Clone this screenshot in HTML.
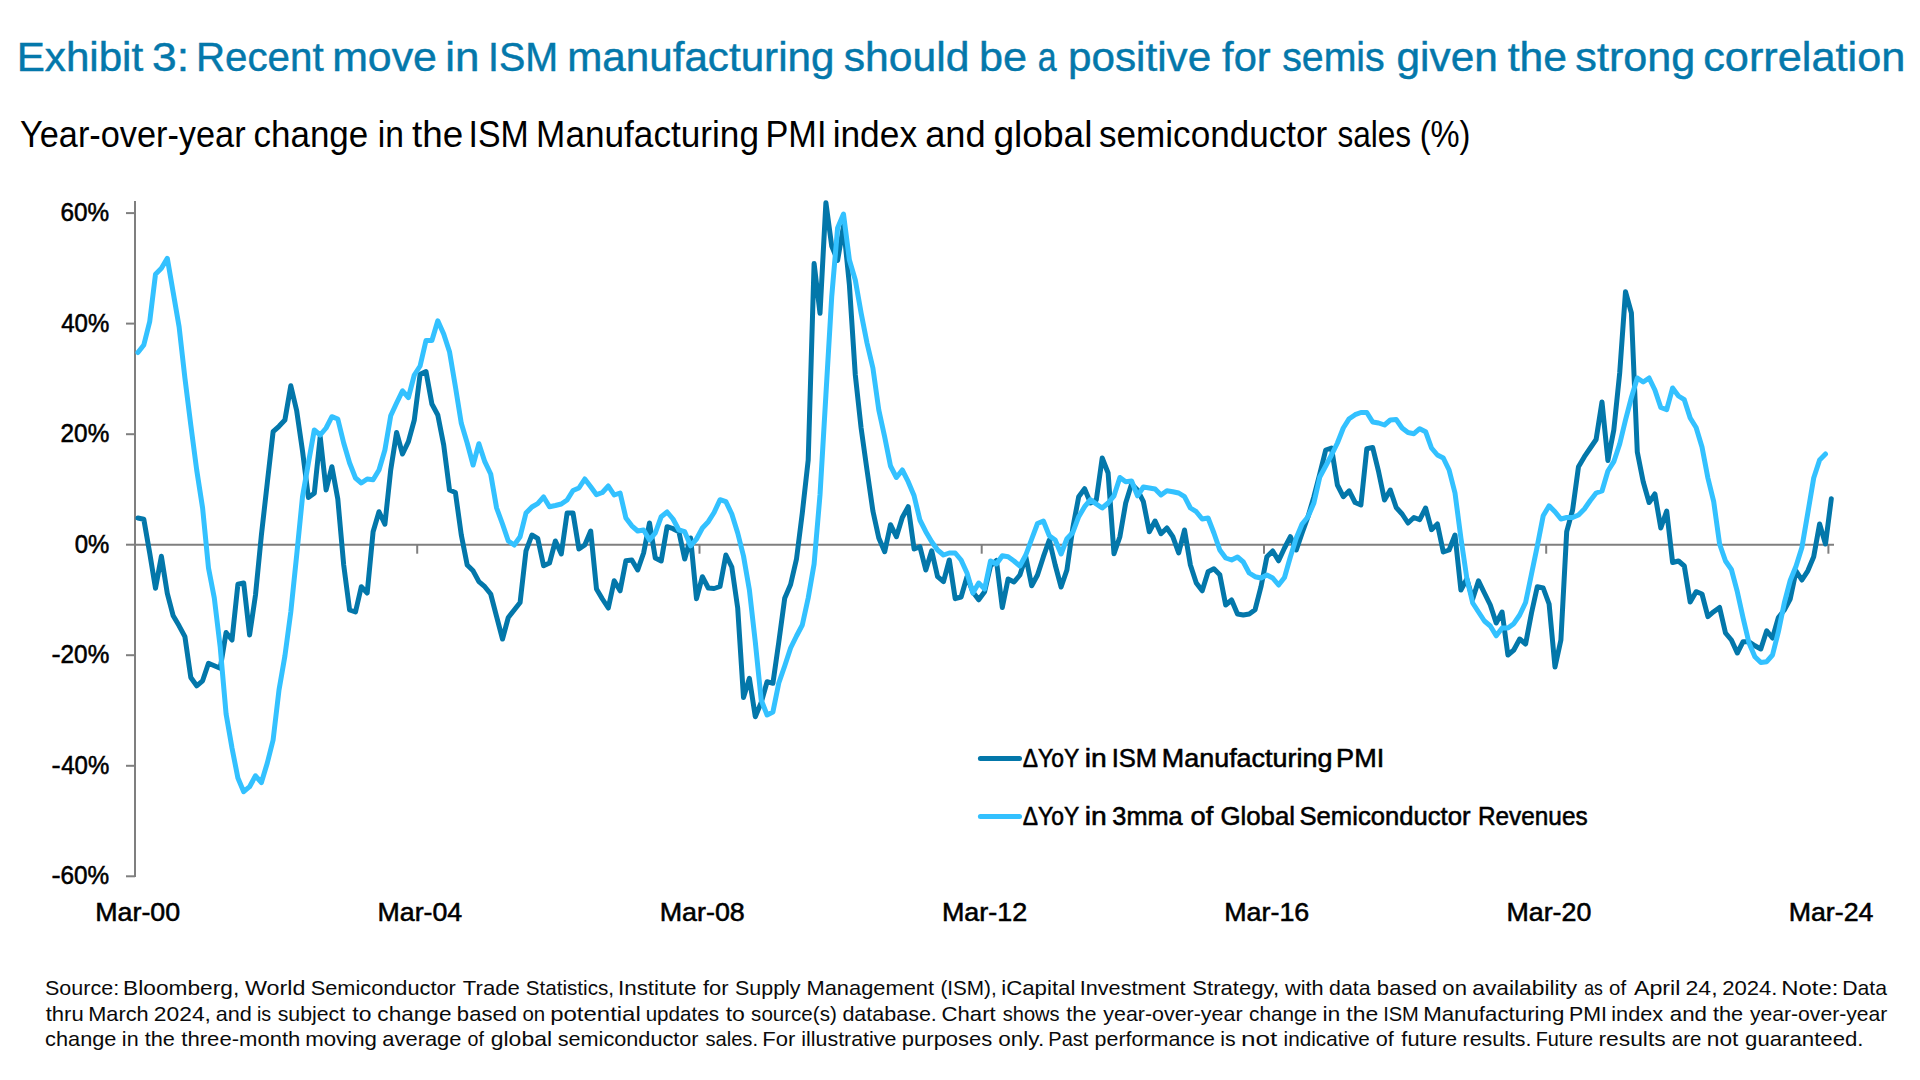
<!DOCTYPE html>
<html lang="en"><head><meta charset="utf-8"><title>Exhibit 3</title>
<style>
html,body{margin:0;padding:0;background:#fff;}
body{width:1920px;height:1080px;overflow:hidden;}
svg{display:block;}
text{font-family:"Liberation Sans",sans-serif;}
</style></head><body>
<svg width="1920" height="1080" viewBox="0 0 1920 1080">
<rect width="1920" height="1080" fill="#fff"/>

<text y="71.2" font-size="40" fill="#0478AB" stroke="#0478AB" stroke-width="0.45"><tspan x="16.74" textLength="126.46" lengthAdjust="spacingAndGlyphs">Exhibit</tspan> <tspan x="152.06" textLength="36.99" lengthAdjust="spacingAndGlyphs">3:</tspan> <tspan x="196.00" textLength="127.60" lengthAdjust="spacingAndGlyphs">Recent</tspan> <tspan x="332.16" textLength="104.75" lengthAdjust="spacingAndGlyphs">move</tspan> <tspan x="445.36" textLength="34.19" lengthAdjust="spacingAndGlyphs">in</tspan> <tspan x="488.06" textLength="70.18" lengthAdjust="spacingAndGlyphs">ISM</tspan> <tspan x="567.20" textLength="267.22" lengthAdjust="spacingAndGlyphs">manufacturing</tspan> <tspan x="843.81" textLength="125.63" lengthAdjust="spacingAndGlyphs">should</tspan> <tspan x="978.92" textLength="48.00" lengthAdjust="spacingAndGlyphs">be</tspan> <tspan x="1037.86" textLength="18.84" lengthAdjust="spacingAndGlyphs">a</tspan> <tspan x="1067.98" textLength="143.20" lengthAdjust="spacingAndGlyphs">positive</tspan> <tspan x="1222.11" textLength="48.58" lengthAdjust="spacingAndGlyphs">for</tspan> <tspan x="1282.21" textLength="102.51" lengthAdjust="spacingAndGlyphs">semis</tspan> <tspan x="1396.52" textLength="101.23" lengthAdjust="spacingAndGlyphs">given</tspan> <tspan x="1507.65" textLength="59.24" lengthAdjust="spacingAndGlyphs">the</tspan> <tspan x="1575.30" textLength="119.98" lengthAdjust="spacingAndGlyphs">strong</tspan> <tspan x="1703.16" textLength="202.15" lengthAdjust="spacingAndGlyphs">correlation</tspan></text>
<text y="147.1" font-size="36" fill="#000"><tspan x="20.06" textLength="225.50" lengthAdjust="spacingAndGlyphs">Year-over-year</tspan> <tspan x="253.51" textLength="114.74" lengthAdjust="spacingAndGlyphs">change</tspan> <tspan x="377.75" textLength="26.13" lengthAdjust="spacingAndGlyphs">in</tspan> <tspan x="412.14" textLength="51.19" lengthAdjust="spacingAndGlyphs">the</tspan> <tspan x="468.57" textLength="60.20" lengthAdjust="spacingAndGlyphs">ISM</tspan> <tspan x="536.12" textLength="222.85" lengthAdjust="spacingAndGlyphs">Manufacturing</tspan> <tspan x="765.49" textLength="60.98" lengthAdjust="spacingAndGlyphs">PMI</tspan> <tspan x="832.64" textLength="84.44" lengthAdjust="spacingAndGlyphs">index</tspan> <tspan x="925.16" textLength="60.48" lengthAdjust="spacingAndGlyphs">and</tspan> <tspan x="993.44" textLength="99.04" lengthAdjust="spacingAndGlyphs">global</tspan> <tspan x="1099.02" textLength="228.26" lengthAdjust="spacingAndGlyphs">semiconductor</tspan> <tspan x="1337.42" textLength="73.72" lengthAdjust="spacingAndGlyphs">sales</tspan> <tspan x="1419.67" textLength="50.86" lengthAdjust="spacingAndGlyphs">(%)</tspan></text>
<g stroke="#7f7f7f" stroke-width="2" fill="none">
<line x1="135" y1="201" x2="135" y2="877"/>
<line x1="135" y1="544.7" x2="1834" y2="544.7"/>
<line x1="126" y1="213.1" x2="135" y2="213.1"/>
<line x1="126" y1="323.6" x2="135" y2="323.6"/>
<line x1="126" y1="434.2" x2="135" y2="434.2"/>
<line x1="126" y1="544.7" x2="135" y2="544.7"/>
<line x1="126" y1="655.2" x2="135" y2="655.2"/>
<line x1="126" y1="765.8" x2="135" y2="765.8"/>
<line x1="126" y1="876.3" x2="135" y2="876.3"/>
<line x1="417.2" y1="544.7" x2="417.2" y2="553.7"/>
<line x1="699.5" y1="544.7" x2="699.5" y2="553.7"/>
<line x1="981.7" y1="544.7" x2="981.7" y2="553.7"/>
<line x1="1264.0" y1="544.7" x2="1264.0" y2="553.7"/>
<line x1="1546.2" y1="544.7" x2="1546.2" y2="553.7"/>
<line x1="1828.4" y1="544.7" x2="1828.4" y2="553.7"/>
</g>
<text y="221.2" font-size="26" fill="#000" stroke="#000" stroke-width="0.55"><tspan x="60.56" textLength="48.70" lengthAdjust="spacingAndGlyphs">60%</tspan></text>
<text y="331.7" font-size="26" fill="#000" stroke="#000" stroke-width="0.55"><tspan x="61.25" textLength="48.01" lengthAdjust="spacingAndGlyphs">40%</tspan></text>
<text y="442.3" font-size="26" fill="#000" stroke="#000" stroke-width="0.55"><tspan x="60.58" textLength="48.69" lengthAdjust="spacingAndGlyphs">20%</tspan></text>
<text y="552.8" font-size="26" fill="#000" stroke="#000" stroke-width="0.55"><tspan x="74.67" textLength="34.59" lengthAdjust="spacingAndGlyphs">0%</tspan></text>
<text y="663.3" font-size="26" fill="#000" stroke="#000" stroke-width="0.55"><tspan x="51.48" textLength="9.14" lengthAdjust="spacingAndGlyphs">-</tspan><tspan x="60.58" textLength="48.69" lengthAdjust="spacingAndGlyphs">20%</tspan></text>
<text y="773.9" font-size="26" fill="#000" stroke="#000" stroke-width="0.55"><tspan x="51.48" textLength="9.14" lengthAdjust="spacingAndGlyphs">-</tspan><tspan x="61.25" textLength="48.01" lengthAdjust="spacingAndGlyphs">40%</tspan></text>
<text y="884.4" font-size="26" fill="#000" stroke="#000" stroke-width="0.55"><tspan x="51.48" textLength="9.14" lengthAdjust="spacingAndGlyphs">-</tspan><tspan x="60.56" textLength="48.70" lengthAdjust="spacingAndGlyphs">60%</tspan></text>
<text y="921" font-size="26" fill="#000" stroke="#000" stroke-width="0.55"><tspan x="95.25" textLength="84.95" lengthAdjust="spacingAndGlyphs">Mar-00</tspan></text>
<text y="921" font-size="26" fill="#000" stroke="#000" stroke-width="0.55"><tspan x="377.50" textLength="84.68" lengthAdjust="spacingAndGlyphs">Mar-04</tspan></text>
<text y="921" font-size="26" fill="#000" stroke="#000" stroke-width="0.55"><tspan x="659.73" textLength="85.07" lengthAdjust="spacingAndGlyphs">Mar-08</tspan></text>
<text y="921" font-size="26" fill="#000" stroke="#000" stroke-width="0.55"><tspan x="941.96" textLength="85.26" lengthAdjust="spacingAndGlyphs">Mar-12</tspan></text>
<text y="921" font-size="26" fill="#000" stroke="#000" stroke-width="0.55"><tspan x="1224.21" textLength="85.08" lengthAdjust="spacingAndGlyphs">Mar-16</tspan></text>
<text y="921" font-size="26" fill="#000" stroke="#000" stroke-width="0.55"><tspan x="1506.45" textLength="84.95" lengthAdjust="spacingAndGlyphs">Mar-20</tspan></text>
<text y="921" font-size="26" fill="#000" stroke="#000" stroke-width="0.55"><tspan x="1788.70" textLength="84.68" lengthAdjust="spacingAndGlyphs">Mar-24</tspan></text>
<polyline points="137.9,518.0 143.8,519.2 149.7,553.0 155.5,588.3 161.4,556.3 167.3,593.3 173.2,615.8 179.1,625.8 184.9,636.7 190.8,677.5 196.7,685.8 202.6,680.8 208.5,663.3 214.3,665.8 220.2,668.3 226.1,632.5 232.0,640.0 237.9,584.2 243.7,583.0 249.6,635.0 255.5,595.0 261.4,535.0 267.3,482.8 273.1,431.7 279.0,426.3 284.9,420.0 290.8,385.8 296.7,410.8 302.5,450.8 308.4,497.5 314.3,493.3 320.2,436.7 326.1,490.0 331.9,466.7 337.8,499.0 343.7,565.0 349.6,610.0 355.5,612.0 361.3,586.7 367.2,593.0 373.1,531.7 379.0,511.7 384.9,524.2 390.7,470.0 396.6,432.5 402.5,454.0 408.4,441.7 414.3,420.0 420.1,374.2 426.0,371.5 431.9,404.0 437.8,415.0 443.7,445.0 449.5,490.0 455.4,492.5 461.3,535.0 467.2,565.0 473.1,570.8 478.9,581.7 484.8,586.7 490.7,594.0 496.6,616.7 502.5,639.0 508.3,617.5 514.2,610.0 520.1,602.5 526.0,550.8 531.9,535.0 537.7,538.3 543.6,565.8 549.5,563.0 555.4,541.0 561.3,554.0 567.1,513.0 573.0,513.0 578.9,549.0 584.8,545.0 590.7,531.0 596.5,589.0 602.4,599.0 608.3,608.0 614.2,580.8 620.1,590.8 625.9,560.8 631.8,560.0 637.7,570.0 643.6,553.0 649.5,523.0 655.3,558.0 661.2,561.0 667.1,526.7 673.0,528.7 678.9,531.7 684.7,559.0 690.6,538.0 696.5,598.7 702.4,576.7 708.3,588.0 714.1,588.5 720.0,586.5 725.9,555.0 731.8,567.0 737.7,608.0 743.5,697.5 749.4,678.3 755.3,716.7 761.2,702.5 767.1,681.7 772.9,683.3 778.8,642.0 784.7,598.3 790.6,584.5 796.5,559.0 802.3,513.0 808.2,460.0 814.1,263.5 820.0,313.3 825.9,202.7 831.7,246.0 837.6,260.4 843.5,226.0 849.4,285.0 855.3,375.0 861.1,428.0 867.0,470.0 872.9,511.0 878.8,538.0 884.7,551.7 890.5,524.7 896.4,536.7 902.3,517.5 908.2,506.7 914.1,549.0 919.9,546.7 925.8,570.0 931.7,550.8 937.6,576.7 943.5,581.7 949.3,560.0 955.2,598.7 961.1,597.0 967.0,576.7 972.9,592.0 978.7,599.8 984.6,591.7 990.5,566.0 996.4,560.5 1002.3,607.5 1008.1,579.0 1014.0,582.0 1019.9,575.0 1025.8,556.7 1031.7,585.8 1037.5,575.0 1043.4,556.7 1049.3,540.0 1055.2,565.0 1061.1,587.0 1066.9,570.0 1072.8,528.0 1078.7,496.7 1084.6,488.7 1090.5,503.0 1096.3,500.0 1102.2,458.0 1108.1,473.0 1114.0,553.7 1119.9,536.7 1125.7,503.0 1131.6,484.0 1137.5,490.0 1143.4,501.7 1149.3,531.7 1155.1,521.0 1161.0,533.7 1166.9,528.0 1172.8,536.7 1178.7,553.0 1184.5,530.0 1190.4,565.0 1196.3,583.0 1202.2,590.8 1208.1,571.7 1213.9,568.7 1219.8,574.7 1225.7,605.0 1231.6,600.0 1237.5,614.0 1243.3,615.0 1249.2,614.0 1255.1,609.7 1261.0,586.7 1266.9,556.7 1272.7,551.0 1278.6,560.8 1284.5,548.0 1290.4,536.7 1296.3,550.0 1302.1,533.0 1308.0,516.7 1313.9,496.7 1319.8,474.0 1325.7,450.0 1331.5,448.0 1337.4,485.0 1343.3,496.7 1349.2,490.8 1355.1,502.5 1360.9,505.0 1366.8,448.7 1372.7,447.5 1378.6,471.7 1384.5,500.0 1390.3,490.0 1396.2,507.5 1402.1,514.0 1408.0,523.0 1413.9,517.5 1419.7,519.7 1425.6,508.0 1431.5,529.7 1437.4,524.0 1443.3,552.0 1449.1,550.0 1455.0,535.0 1460.9,590.0 1466.8,579.0 1472.7,599.0 1478.5,580.8 1484.4,593.0 1490.3,605.0 1496.2,623.0 1502.1,612.0 1507.9,655.0 1513.8,650.0 1519.7,639.0 1525.6,644.0 1531.5,613.0 1537.3,586.7 1543.2,588.0 1549.1,604.0 1555.0,667.0 1560.9,640.0 1566.7,531.7 1572.6,510.0 1578.5,466.7 1584.4,456.7 1590.3,448.0 1596.1,439.5 1602.0,402.0 1607.9,460.5 1613.8,430.0 1619.7,373.0 1625.5,291.7 1631.4,313.0 1637.3,452.0 1643.2,481.7 1649.1,502.5 1654.9,494.0 1660.8,528.0 1666.7,511.0 1672.6,562.5 1678.5,561.0 1684.3,566.0 1690.2,602.0 1696.1,591.7 1702.0,594.0 1707.9,616.7 1713.7,611.7 1719.6,607.5 1725.5,633.0 1731.4,640.0 1737.3,653.0 1743.1,641.7 1749.0,641.7 1754.9,645.8 1760.8,649.0 1766.7,630.8 1772.5,638.0 1778.4,617.5 1784.3,610.0 1790.2,599.0 1796.1,571.0 1801.9,580.0 1807.8,570.8 1813.7,556.7 1819.6,524.0 1825.5,544.0 1831.3,498.7" fill="none" stroke="#0377AA" stroke-width="5" stroke-linejoin="round" stroke-linecap="round"/>
<polyline points="137.9,352.5 143.8,345.0 149.7,321.7 155.5,274.2 161.4,268.3 167.3,258.3 173.2,292.5 179.1,326.7 184.9,378.0 190.8,425.0 196.7,470.0 202.6,508.0 208.5,568.0 214.3,598.0 220.2,647.0 226.1,714.0 232.0,748.0 237.9,778.0 243.7,791.7 249.6,786.7 255.5,775.8 261.4,782.5 267.3,763.0 273.1,740.0 279.0,690.0 284.9,656.0 290.8,612.0 296.7,555.0 302.5,496.7 308.4,463.0 314.3,430.0 320.2,435.0 326.1,428.0 331.9,416.7 337.8,419.0 343.7,443.0 349.6,463.0 355.5,478.0 361.3,483.0 367.2,479.0 373.1,479.7 379.0,470.0 384.9,450.0 390.7,415.8 396.6,403.0 402.5,390.8 408.4,397.5 414.3,375.0 420.1,366.0 426.0,340.5 431.9,340.5 437.8,320.8 443.7,334.0 449.5,351.7 455.4,386.7 461.3,423.3 467.2,443.0 473.1,465.0 478.9,443.7 484.8,461.7 490.7,474.0 496.6,508.0 502.5,524.0 508.3,541.0 514.2,545.0 520.1,536.7 526.0,513.0 531.9,507.0 537.7,503.7 543.6,497.0 549.5,506.7 555.4,505.5 561.3,504.0 567.1,500.0 573.0,490.5 578.9,488.0 584.8,479.0 590.7,486.7 596.5,494.7 602.4,492.5 608.3,486.0 614.2,495.0 620.1,493.0 625.9,518.0 631.8,525.8 637.7,531.0 643.6,530.0 649.5,540.0 655.3,533.0 661.2,516.7 667.1,512.0 673.0,519.0 678.9,530.0 684.7,531.7 690.6,545.8 696.5,539.0 702.4,528.0 708.3,521.7 714.1,512.5 720.0,499.7 725.9,501.7 731.8,514.0 737.7,533.0 743.5,556.0 749.4,590.0 755.3,642.0 761.2,700.0 767.1,715.0 772.9,712.0 778.8,683.0 784.7,666.0 790.6,648.0 796.5,636.0 802.3,625.0 808.2,598.0 814.1,564.0 820.0,495.0 825.9,395.0 831.7,297.0 837.6,228.0 843.5,214.0 849.4,260.0 855.3,280.0 861.1,313.0 867.0,343.0 872.9,368.0 878.8,410.0 884.7,437.0 890.5,466.0 896.4,477.5 902.3,470.0 908.2,481.7 914.1,495.8 919.9,520.0 925.8,531.7 931.7,541.7 937.6,550.0 943.5,555.0 949.3,553.0 955.2,553.0 961.1,560.0 967.0,573.0 972.9,593.0 978.7,583.0 984.6,589.0 990.5,561.0 996.4,564.0 1002.3,555.8 1008.1,556.7 1014.0,561.0 1019.9,566.0 1025.8,555.0 1031.7,539.0 1037.5,523.5 1043.4,521.0 1049.3,535.8 1055.2,540.0 1061.1,554.0 1066.9,538.7 1072.8,532.5 1078.7,516.7 1084.6,506.7 1090.5,499.7 1096.3,504.0 1102.2,508.0 1108.1,503.0 1114.0,495.8 1119.9,477.5 1125.7,481.7 1131.6,481.0 1137.5,495.8 1143.4,487.0 1149.3,488.0 1155.1,489.0 1161.0,495.0 1166.9,490.8 1172.8,491.7 1178.7,493.0 1184.5,496.7 1190.4,508.0 1196.3,511.7 1202.2,519.0 1208.1,518.0 1213.9,533.0 1219.8,550.0 1225.7,558.0 1231.6,560.0 1237.5,557.0 1243.3,562.0 1249.2,573.0 1255.1,576.7 1261.0,578.0 1266.9,575.0 1272.7,578.0 1278.6,585.0 1284.5,577.5 1290.4,556.7 1296.3,538.0 1302.1,524.0 1308.0,516.7 1313.9,503.0 1319.8,477.0 1325.7,466.0 1331.5,455.0 1337.4,443.0 1343.3,428.0 1349.2,418.7 1355.1,414.7 1360.9,412.5 1366.8,412.5 1372.7,422.0 1378.6,423.0 1384.5,425.0 1390.3,420.0 1396.2,419.5 1402.1,428.0 1408.0,432.5 1413.9,433.7 1419.7,428.7 1425.6,431.7 1431.5,448.0 1437.4,455.0 1443.3,458.0 1449.1,470.0 1455.0,493.0 1460.9,538.0 1466.8,578.0 1472.7,603.0 1478.5,612.0 1484.4,621.0 1490.3,626.0 1496.2,635.8 1502.1,628.0 1507.9,628.0 1513.8,623.7 1519.7,615.0 1525.6,602.5 1531.5,574.0 1537.3,546.0 1543.2,515.8 1549.1,505.8 1555.0,511.7 1560.9,519.0 1566.7,517.5 1572.6,517.5 1578.5,515.0 1584.4,509.0 1590.3,500.5 1596.1,493.0 1602.0,491.0 1607.9,471.0 1613.8,461.7 1619.7,444.0 1625.5,420.0 1631.4,397.5 1637.3,378.0 1643.2,382.0 1649.1,378.0 1654.9,390.0 1660.8,407.5 1666.7,409.7 1672.6,388.0 1678.5,396.0 1684.3,399.7 1690.2,418.0 1696.1,427.5 1702.0,447.0 1707.9,478.0 1713.7,501.7 1719.6,544.0 1725.5,561.0 1731.4,569.5 1737.3,591.7 1743.1,618.0 1749.0,643.0 1754.9,656.7 1760.8,662.5 1766.7,661.7 1772.5,655.0 1778.4,631.7 1784.3,603.0 1790.2,580.5 1796.1,566.0 1801.9,547.5 1807.8,513.0 1813.7,478.0 1819.6,460.0 1825.5,454.0" fill="none" stroke="#33C1FF" stroke-width="5" stroke-linejoin="round" stroke-linecap="round"/>
<line x1="980.4" y1="758.4" x2="1019.5" y2="758.4" stroke="#0377AA" stroke-width="5" stroke-linecap="round"/>
<line x1="980.4" y1="816.6" x2="1019.5" y2="816.6" stroke="#33C1FF" stroke-width="5" stroke-linecap="round"/>
<text y="766.7" font-size="25.6" fill="#000" stroke="#000" stroke-width="0.55"><tspan x="1022.85" textLength="55.93" lengthAdjust="spacingAndGlyphs">ΔYoY</tspan> <tspan x="1084.81" textLength="22.03" lengthAdjust="spacingAndGlyphs">in</tspan> <tspan x="1111.64" textLength="45.46" lengthAdjust="spacingAndGlyphs">ISM</tspan> <tspan x="1161.79" textLength="170.64" lengthAdjust="spacingAndGlyphs">Manufacturing</tspan> <tspan x="1336.08" textLength="48.12" lengthAdjust="spacingAndGlyphs">PMI</tspan></text>
<text y="824.9" font-size="25.6" fill="#000" stroke="#000" stroke-width="0.55"><tspan x="1022.85" textLength="55.93" lengthAdjust="spacingAndGlyphs">ΔYoY</tspan> <tspan x="1084.81" textLength="22.03" lengthAdjust="spacingAndGlyphs">in</tspan> <tspan x="1112.34" textLength="70.36" lengthAdjust="spacingAndGlyphs">3mma</tspan> <tspan x="1190.56" textLength="22.70" lengthAdjust="spacingAndGlyphs">of</tspan> <tspan x="1220.40" textLength="74.63" lengthAdjust="spacingAndGlyphs">Global</tspan> <tspan x="1299.54" textLength="170.89" lengthAdjust="spacingAndGlyphs">Semiconductor</tspan> <tspan x="1478.00" textLength="109.58" lengthAdjust="spacingAndGlyphs">Revenues</tspan></text>
<text y="995.4" font-size="19.8" fill="#0a0a0a"><tspan x="45.02" textLength="74.14" lengthAdjust="spacingAndGlyphs">Source:</tspan> <tspan x="123.14" textLength="116.10" lengthAdjust="spacingAndGlyphs">Bloomberg,</tspan> <tspan x="244.90" textLength="60.49" lengthAdjust="spacingAndGlyphs">World</tspan> <tspan x="310.71" textLength="145.15" lengthAdjust="spacingAndGlyphs">Semiconductor</tspan> <tspan x="462.81" textLength="57.06" lengthAdjust="spacingAndGlyphs">Trade</tspan> <tspan x="525.76" textLength="88.29" lengthAdjust="spacingAndGlyphs">Statistics,</tspan> <tspan x="617.93" textLength="78.57" lengthAdjust="spacingAndGlyphs">Institute</tspan> <tspan x="702.99" textLength="25.57" lengthAdjust="spacingAndGlyphs">for</tspan> <tspan x="735.03" textLength="65.51" lengthAdjust="spacingAndGlyphs">Supply</tspan> <tspan x="806.51" textLength="127.55" lengthAdjust="spacingAndGlyphs">Management</tspan> <tspan x="940.42" textLength="56.34" lengthAdjust="spacingAndGlyphs">(ISM),</tspan> <tspan x="1001.21" textLength="74.18" lengthAdjust="spacingAndGlyphs">iCapital</tspan> <tspan x="1079.70" textLength="105.96" lengthAdjust="spacingAndGlyphs">Investment</tspan> <tspan x="1192.31" textLength="86.83" lengthAdjust="spacingAndGlyphs">Strategy,</tspan> <tspan x="1285.03" textLength="38.58" lengthAdjust="spacingAndGlyphs">with</tspan> <tspan x="1329.11" textLength="41.39" lengthAdjust="spacingAndGlyphs">data</tspan> <tspan x="1376.88" textLength="60.04" lengthAdjust="spacingAndGlyphs">based</tspan> <tspan x="1442.37" textLength="24.56" lengthAdjust="spacingAndGlyphs">on</tspan> <tspan x="1472.33" textLength="104.91" lengthAdjust="spacingAndGlyphs">availability</tspan> <tspan x="1584.25" textLength="18.58" lengthAdjust="spacingAndGlyphs">as</tspan> <tspan x="1609.14" textLength="17.03" lengthAdjust="spacingAndGlyphs">of</tspan> <tspan x="1633.95" textLength="46.50" lengthAdjust="spacingAndGlyphs">April</tspan> <tspan x="1685.54" textLength="32.03" lengthAdjust="spacingAndGlyphs">24,</tspan> <tspan x="1722.19" textLength="55.33" lengthAdjust="spacingAndGlyphs">2024.</tspan> <tspan x="1781.34" textLength="57.04" lengthAdjust="spacingAndGlyphs">Note:</tspan> <tspan x="1842.26" textLength="44.74" lengthAdjust="spacingAndGlyphs">Data</tspan></text>
<text y="1020.8" font-size="19.8" fill="#0a0a0a"><tspan x="45.67" textLength="38.00" lengthAdjust="spacingAndGlyphs">thru</tspan> <tspan x="88.22" textLength="60.39" lengthAdjust="spacingAndGlyphs">March</tspan> <tspan x="153.85" textLength="57.10" lengthAdjust="spacingAndGlyphs">2024,</tspan> <tspan x="215.78" textLength="36.11" lengthAdjust="spacingAndGlyphs">and</tspan> <tspan x="256.98" textLength="14.23" lengthAdjust="spacingAndGlyphs">is</tspan> <tspan x="277.71" textLength="67.35" lengthAdjust="spacingAndGlyphs">subject</tspan> <tspan x="352.35" textLength="19.11" lengthAdjust="spacingAndGlyphs">to</tspan> <tspan x="377.34" textLength="74.16" lengthAdjust="spacingAndGlyphs">change</tspan> <tspan x="456.88" textLength="60.04" lengthAdjust="spacingAndGlyphs">based</tspan> <tspan x="522.44" textLength="22.79" lengthAdjust="spacingAndGlyphs">on</tspan> <tspan x="550.15" textLength="90.65" lengthAdjust="spacingAndGlyphs">potential</tspan> <tspan x="645.66" textLength="73.28" lengthAdjust="spacingAndGlyphs">updates</tspan> <tspan x="725.65" textLength="19.22" lengthAdjust="spacingAndGlyphs">to</tspan> <tspan x="751.13" textLength="85.65" lengthAdjust="spacingAndGlyphs">source(s)</tspan> <tspan x="842.40" textLength="94.47" lengthAdjust="spacingAndGlyphs">database.</tspan> <tspan x="941.58" textLength="54.09" lengthAdjust="spacingAndGlyphs">Chart</tspan> <tspan x="1002.74" textLength="56.88" lengthAdjust="spacingAndGlyphs">shows</tspan> <tspan x="1066.37" textLength="30.09" lengthAdjust="spacingAndGlyphs">the</tspan> <tspan x="1103.25" textLength="139.31" lengthAdjust="spacingAndGlyphs">year-over-year</tspan> <tspan x="1249.12" textLength="68.00" lengthAdjust="spacingAndGlyphs">change</tspan> <tspan x="1322.46" textLength="17.94" lengthAdjust="spacingAndGlyphs">in</tspan> <tspan x="1346.35" textLength="31.87" lengthAdjust="spacingAndGlyphs">the</tspan> <tspan x="1383.15" textLength="35.70" lengthAdjust="spacingAndGlyphs">ISM</tspan> <tspan x="1423.17" textLength="141.16" lengthAdjust="spacingAndGlyphs">Manufacturing</tspan> <tspan x="1568.95" textLength="37.92" lengthAdjust="spacingAndGlyphs">PMI</tspan> <tspan x="1611.25" textLength="51.88" lengthAdjust="spacingAndGlyphs">index</tspan> <tspan x="1669.75" textLength="37.18" lengthAdjust="spacingAndGlyphs">and</tspan> <tspan x="1712.97" textLength="30.19" lengthAdjust="spacingAndGlyphs">the</tspan> <tspan x="1749.95" textLength="137.40" lengthAdjust="spacingAndGlyphs">year-over-year</tspan></text>
<text y="1046.2" font-size="19.8" fill="#0a0a0a"><tspan x="45.08" textLength="71.39" lengthAdjust="spacingAndGlyphs">change</tspan> <tspan x="121.86" textLength="16.73" lengthAdjust="spacingAndGlyphs">in</tspan> <tspan x="144.67" textLength="30.19" lengthAdjust="spacingAndGlyphs">the</tspan> <tspan x="181.37" textLength="118.97" lengthAdjust="spacingAndGlyphs">three-month</tspan> <tspan x="305.22" textLength="71.71" lengthAdjust="spacingAndGlyphs">moving</tspan> <tspan x="382.37" textLength="79.10" lengthAdjust="spacingAndGlyphs">average</tspan> <tspan x="467.47" textLength="16.40" lengthAdjust="spacingAndGlyphs">of</tspan> <tspan x="490.74" textLength="61.30" lengthAdjust="spacingAndGlyphs">global</tspan> <tspan x="557.70" textLength="140.86" lengthAdjust="spacingAndGlyphs">semiconductor</tspan> <tspan x="705.44" textLength="52.60" lengthAdjust="spacingAndGlyphs">sales.</tspan> <tspan x="762.19" textLength="33.07" lengthAdjust="spacingAndGlyphs">For</tspan> <tspan x="801.27" textLength="95.18" lengthAdjust="spacingAndGlyphs">illustrative</tspan> <tspan x="901.88" textLength="90.41" lengthAdjust="spacingAndGlyphs">purposes</tspan> <tspan x="998.39" textLength="45.79" lengthAdjust="spacingAndGlyphs">only.</tspan> <tspan x="1048.36" textLength="39.99" lengthAdjust="spacingAndGlyphs">Past</tspan> <tspan x="1094.62" textLength="120.23" lengthAdjust="spacingAndGlyphs">performance</tspan> <tspan x="1220.27" textLength="15.40" lengthAdjust="spacingAndGlyphs">is</tspan> <tspan x="1240.96" textLength="36.43" lengthAdjust="spacingAndGlyphs">not</tspan> <tspan x="1283.62" textLength="86.20" lengthAdjust="spacingAndGlyphs">indicative</tspan> <tspan x="1375.79" textLength="18.08" lengthAdjust="spacingAndGlyphs">of</tspan> <tspan x="1401.39" textLength="55.78" lengthAdjust="spacingAndGlyphs">future</tspan> <tspan x="1462.58" textLength="68.87" lengthAdjust="spacingAndGlyphs">results.</tspan> <tspan x="1535.67" textLength="57.41" lengthAdjust="spacingAndGlyphs">Future</tspan> <tspan x="1598.48" textLength="67.24" lengthAdjust="spacingAndGlyphs">results</tspan> <tspan x="1671.83" textLength="29.58" lengthAdjust="spacingAndGlyphs">are</tspan> <tspan x="1706.79" textLength="31.57" lengthAdjust="spacingAndGlyphs">not</tspan> <tspan x="1745.07" textLength="118.46" lengthAdjust="spacingAndGlyphs">guaranteed.</tspan></text>
</svg></body></html>
